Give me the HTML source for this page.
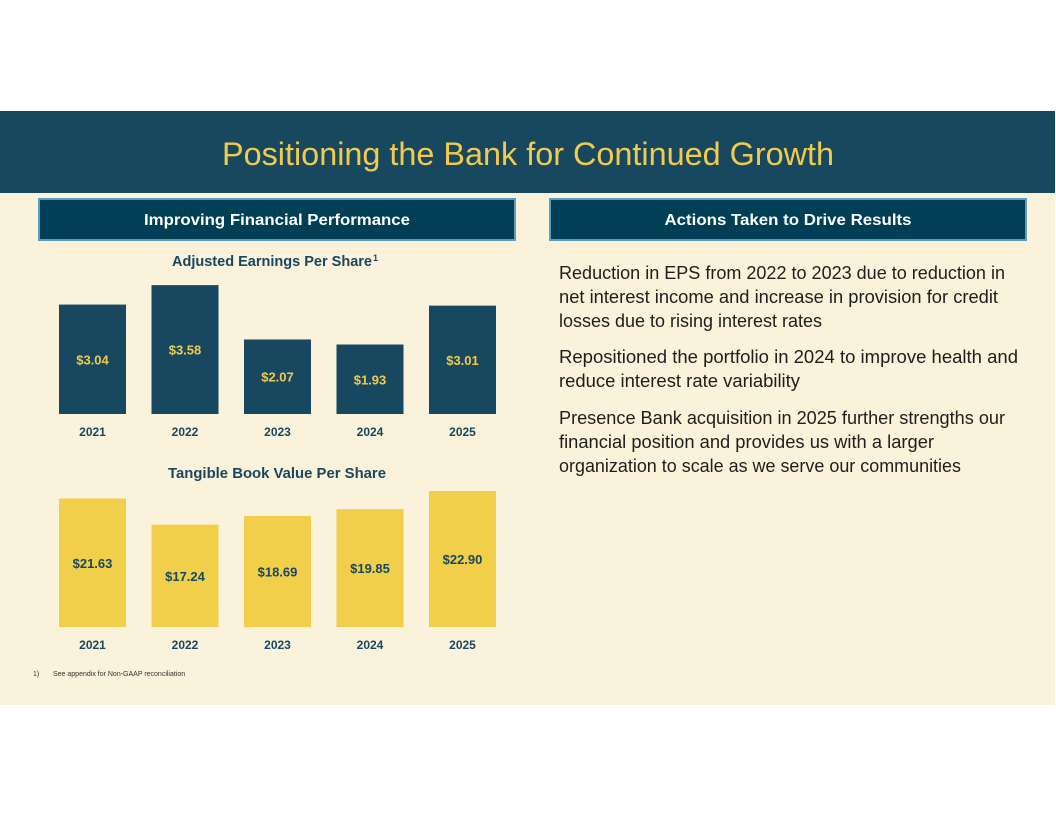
<!DOCTYPE html>
<html><head><meta charset="utf-8"><style>
html,body{margin:0;padding:0;background:#fff;}
svg{display:block;font-family:"Liberation Sans",sans-serif;}
</style></head><body>
<svg id="s" width="1056" height="816" viewBox="0 0 1056 816">
<rect x="0" y="193" width="1055" height="512" fill="#faf2da"/>
<rect x="0" y="111" width="1055" height="82" fill="#17485f"/>
<text x="528" y="165" text-anchor="middle" font-size="32" fill="#f2cb4c" textLength="612" lengthAdjust="spacingAndGlyphs">Positioning the Bank for Continued Growth</text>
<rect x="39" y="199" width="476" height="41" fill="#003f55" stroke="#5e9cbf" stroke-width="2"/>
<text x="277" y="225" text-anchor="middle" font-size="16" font-weight="bold" fill="#fff" textLength="266" lengthAdjust="spacingAndGlyphs">Improving Financial Performance</text>
<rect x="550" y="199" width="476" height="41" fill="#003f55" stroke="#5e9cbf" stroke-width="2"/>
<text x="788" y="225" text-anchor="middle" font-size="16" font-weight="bold" fill="#fff" textLength="247" lengthAdjust="spacingAndGlyphs">Actions Taken to Drive Results</text>
<text x="272" y="266" text-anchor="middle" font-size="15" font-weight="bold" fill="#17485f" textLength="200" lengthAdjust="spacingAndGlyphs">Adjusted Earnings Per Share</text>
<text x="373" y="261" font-size="9" font-weight="bold" fill="#17485f">1</text>
<text x="277" y="478" text-anchor="middle" font-size="15" font-weight="bold" fill="#17485f" textLength="218" lengthAdjust="spacingAndGlyphs">Tangible Book Value Per Share</text>
<g id="eps"></g>
<g id="tbv"></g>
<g id="bul"></g>
<text x="33" y="676" font-size="7" fill="#333">1)</text>
<text x="53" y="676" font-size="7" fill="#333">See appendix for Non-GAAP reconciliation</text>
</svg>
<script>
const years = ["2021","2022","2023","2024","2025"];
const epsValues = [3.04, 3.58, 2.07, 1.93, 3.01];
const epsLabels = ["$3.04","$3.58","$2.07","$1.93","$3.01"];
const tbvValues = [21.63, 17.24, 18.69, 19.85, 22.90];
const tbvLabels = ["$21.63","$17.24","$18.69","$19.85","$22.90"];
const NS = "http://www.w3.org/2000/svg";
function xCenter(i){ return 92.5 + i*92.5; }
function drawChart(g, vals, labels, base, scale, fill, txtFill, prefix){
  const grp = document.getElementById(g);
  vals.forEach((v,i)=>{
    const h = v*scale, cx = xCenter(i);
    const r = document.createElementNS(NS,"rect");
    r.setAttribute("x", cx-33.5); r.setAttribute("y", base-h);
    r.setAttribute("width", 67); r.setAttribute("height", h);
    r.setAttribute("fill", fill);
    
    
    grp.appendChild(r);
    const t = document.createElementNS(NS,"text");
    t.setAttribute("x", cx); t.setAttribute("y", base-h/2+5);
    t.setAttribute("text-anchor","middle"); t.setAttribute("font-size","13");
    t.setAttribute("font-weight","bold"); t.setAttribute("fill", txtFill);
    t.textContent = labels[i];
    
    
    grp.appendChild(t);
    const y = document.createElementNS(NS,"text");
    y.setAttribute("x", cx); y.setAttribute("y", base+22);
    y.setAttribute("text-anchor","middle"); y.setAttribute("font-size","12");
    y.setAttribute("font-weight","bold"); y.setAttribute("fill","#17485f");
    y.textContent = years[i];
    
    
    grp.appendChild(y);
  });
}
drawChart("eps", epsValues, epsLabels, 414, 36.0, "#17485f", "#f2cb4c", "eps");
drawChart("tbv", tbvValues, tbvLabels, 627, 5.94, "#f2cf4b", "#17485f", "tbv");
const lines = [
 ["Reduction in EPS from 2022 to 2023 due to reduction in",279,446],
 ["net interest income and increase in provision for credit",303,439],
 ["losses due to rising interest rates",327,263],
 ["Repositioned the portfolio in 2024 to improve health and",363,459],
 ["reduce interest rate variability",387,241],
 ["Presence Bank acquisition in 2025 further strengths our",424,446],
 ["financial position and provides us with a larger",448,375],
 ["organization to scale as we serve our communities",472,402]
];
const bul = document.getElementById("bul");
lines.forEach((l,i)=>{
  const t = document.createElementNS(NS,"text");
  t.setAttribute("x",559); t.setAttribute("y",l[1]);
  t.setAttribute("font-size","18"); t.setAttribute("fill","#1e1e1e");
  t.setAttribute("textLength", l[2]); t.setAttribute("lengthAdjust","spacingAndGlyphs");
  t.textContent = l[0];
  
  
  bul.appendChild(t);
});
</script>
</body></html>
